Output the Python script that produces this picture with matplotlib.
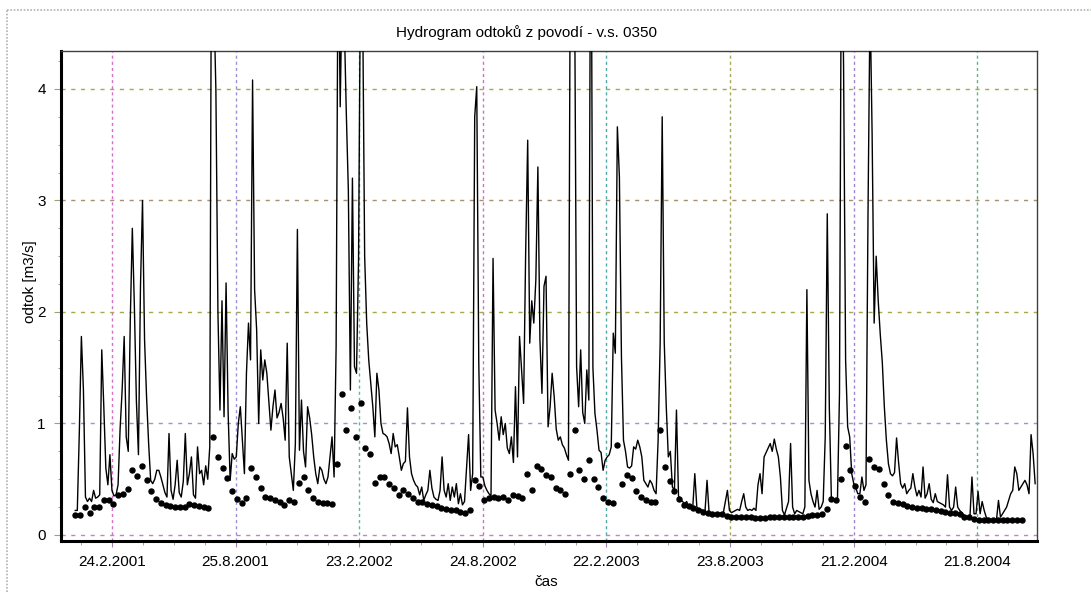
# Hydrogram odtoků z povodí - v.s. 0350
# čára = průtok (hodnoty po 3 dnech), body = týdenní hodnoty

import pandas as pd
import numpy as np
import matplotlib
matplotlib.use('Agg')
import matplotlib.pyplot as plt
import matplotlib.dates as mdates
from matplotlib.lines import Line2D

plt.rcParams['font.family'] = ['Liberation Sans', 'DejaVu Sans']

# ========================
# data
# ========================
q_2001 = [0.22, 0.22, 0.93, 1.78, 1.30, 0.34, 0.30, 0.33, 0.30, 0.40,
          0.33, 0.34, 0.36, 1.66, 1.15, 0.60, 0.45, 0.72, 0.40, 0.35,
          0.36, 0.45, 0.95, 1.30, 1.78, 0.88, 0.75, 1.93, 2.75, 2.05,
          1.20, 0.72, 2.23, 3.00, 1.75, 1.23, 0.82, 0.49, 0.46, 0.50,
          0.58, 0.58, 0.52, 0.45, 0.38, 0.34, 0.91, 0.40, 0.32, 0.45,
          0.67, 0.38, 0.34, 0.48, 0.91, 0.45, 0.55, 0.70, 0.36, 0.33,
          0.79, 0.55, 0.58, 0.45, 0.62, 0.50, 0.79, 6.50, 4.80, 3.99,
          2.00, 1.12, 2.10, 1.06, 2.26, 1.10,
          0.49, 0.73, 0.68, 0.70, 1.00, 1.15, 0.85, 0.55, 1.45, 1.90,
          1.57, 4.08, 2.20, 1.84, 1.00, 1.66, 1.39, 1.57, 1.45, 1.20,
          0.94, 1.15, 1.30, 1.05, 1.10, 1.18, 1.05, 0.85, 1.72, 0.70,
          0.55, 0.40, 0.82, 2.74, 0.76, 1.21, 0.75, 0.61, 1.15, 1.05,
          0.90, 0.70]
q_2002 = [0.55, 0.46, 0.61, 0.58, 0.50, 0.46, 0.52, 0.70,
          0.88, 0.52, 1.69, 5.50, 3.84, 5.00, 4.60, 3.78, 3.09, 1.30,
          3.20, 1.51, 1.45, 2.47, 5.20, 4.80, 2.50, 1.90, 1.57, 1.36,
          1.15, 0.88, 1.45, 1.30, 1.00, 0.91, 0.90, 0.88, 0.82, 0.73,
          0.91,
          0.79, 0.81, 0.70, 0.58, 0.64, 0.66, 1.14, 0.70, 0.55, 0.49,
          0.45, 0.43, 0.36, 0.43, 0.31, 0.36, 0.40, 0.58, 0.42, 0.34,
          0.32, 0.31, 0.40, 0.70, 0.40, 0.34, 0.46, 0.31, 0.43, 0.34,
          0.46, 0.28, 0.37, 0.27, 0.30, 0.60, 0.90, 0.40, 0.55, 3.75,
          4.02, 1.54, 0.52, 0.52, 0.44, 0.40, 0.37, 0.35, 2.48, 1.12,
          1.00, 0.85, 1.06, 0.90, 1.00, 0.78, 0.73, 0.88, 0.65, 1.33,
          0.70, 1.78, 1.48, 1.18, 2.53, 3.54, 1.72, 2.10, 1.90, 2.29,
          3.30, 1.75, 1.27, 2.23, 2.32, 0.97, 1.15, 1.45, 1.24, 0.95,
          0.85,
          0.88, 0.81, 0.78, 0.72, 0.67, 5.80]
q_2003 = [4.50, 5.00, 1.51, 1.15,
          1.66, 1.10, 1.00, 1.48, 1.21, 6.50, 1.50, 1.09, 0.94, 0.76,
          0.74, 0.58, 0.67, 0.70, 0.72, 0.79, 1.81, 1.63, 3.66, 3.21,
          1.60, 0.85, 0.75, 0.61, 0.60, 0.62, 0.79, 0.77, 0.85, 0.79,
          0.70, 0.49, 0.46, 0.43, 0.49, 0.46, 0.40, 0.37, 0.85, 1.72,
          3.75, 1.73, 1.15, 0.70, 0.75, 0.43, 0.40, 1.12, 0.35, 0.32,
          0.30, 0.28, 0.30, 0.25, 0.26, 0.25, 0.55, 0.25, 0.23, 0.23,
          0.22, 0.21, 0.49, 0.20, 0.18, 0.19, 0.19, 0.19, 0.19, 0.20,
          0.20,
          0.30, 0.40, 0.22, 0.20, 0.21, 0.22, 0.23, 0.22, 0.30, 0.37,
          0.25, 0.22, 0.23, 0.22, 0.24, 0.22, 0.45, 0.55, 0.37, 0.70,
          0.74, 0.78, 0.82, 0.75, 0.86, 0.77, 0.70, 0.52, 0.22, 0.18,
          0.24, 0.30, 0.82, 0.25, 0.19, 0.22, 0.21, 0.20, 0.19, 0.25,
          2.20, 0.49, 0.37, 0.30, 0.25, 0.40, 0.23]
q_2004 = [0.25, 0.30, 0.88,
          2.88, 1.15, 0.34, 0.31, 0.31, 0.32, 1.27, 5.80, 4.20, 1.57,
          0.97, 0.88, 0.55, 0.46, 0.42, 0.37, 0.37, 0.52, 0.40, 0.45,
          2.91, 4.80, 3.60, 1.90, 2.50, 2.10, 1.80, 1.55, 1.15, 0.85,
          0.64,
          0.55, 0.53, 0.56, 0.87, 0.65, 0.46, 0.42, 0.46, 0.37, 0.40,
          0.42, 0.55, 0.43, 0.35, 0.40, 0.34, 0.61, 0.33, 0.37, 0.46,
          0.32, 0.29, 0.37, 0.30, 0.29, 0.28, 0.27, 0.25, 0.54, 0.25,
          0.22, 0.25, 0.43, 0.25, 0.22, 0.20, 0.18, 0.16, 0.15, 0.16,
          0.52, 0.19, 0.19, 0.39, 0.19, 0.30, 0.22, 0.16, 0.14, 0.13,
          0.13, 0.13, 0.13, 0.31, 0.16, 0.19, 0.22, 0.25, 0.31, 0.37,
          0.40, 0.61, 0.55, 0.40, 0.43, 0.46, 0.49, 0.45, 0.37, 0.90,
          0.73, 0.46]

# týdenní body
body = [0.18, 0.18, 0.25, 0.20, 0.25, 0.25, 0.31, 0.31, 0.28, 0.36,
        0.37, 0.41, 0.58, 0.53, 0.62, 0.49, 0.39, 0.32, 0.29, 0.27,
        0.26, 0.25, 0.25, 0.25, 0.28, 0.27, 0.26, 0.25, 0.245, 0.88,
        0.70, 0.60, 0.51, 0.39, 0.32, 0.29, 0.33, 0.60, 0.52, 0.42,
        0.34, 0.33, 0.31, 0.30, 0.27, 0.31, 0.30, 0.47, 0.52, 0.40,
        0.33, 0.30, 0.29, 0.29, 0.28, 0.64, 1.26, 0.94, 1.14, 0.88,
        1.18, 0.78, 0.73, 0.47, 0.52, 0.52, 0.46, 0.42, 0.36, 0.40,
        0.37, 0.33, 0.30, 0.30, 0.28, 0.27, 0.26, 0.24, 0.23, 0.22,
        0.22, 0.21, 0.20, 0.22, 0.49, 0.44, 0.31, 0.33, 0.34, 0.33,
        0.34, 0.31, 0.36, 0.35, 0.33, 0.55, 0.40, 0.62, 0.59, 0.54,
        0.52, 0.42, 0.40, 0.37, 0.55, 0.94, 0.58, 0.50, 0.67, 0.50,
        0.43, 0.33, 0.30, 0.29, 0.81, 0.46, 0.54, 0.51, 0.39, 0.34,
        0.31, 0.30, 0.30, 0.94, 0.61, 0.48, 0.39, 0.32, 0.27, 0.26,
        0.24, 0.22, 0.21, 0.20, 0.19, 0.19, 0.19, 0.17, 0.165, 0.165,
        0.165, 0.165, 0.16, 0.155, 0.155, 0.155, 0.165, 0.165, 0.165, 0.165,
        0.16, 0.16, 0.165, 0.165, 0.17, 0.18, 0.175, 0.19, 0.23, 0.32,
        0.31, 0.50, 0.80, 0.58, 0.44, 0.34, 0.30, 0.68, 0.61, 0.59,
        0.46, 0.36, 0.30, 0.29, 0.28, 0.26, 0.255, 0.245, 0.24, 0.23,
        0.23, 0.22, 0.215, 0.21, 0.20, 0.195, 0.185, 0.165, 0.16, 0.14,
        0.135, 0.135, 0.135, 0.135, 0.135, 0.135, 0.135, 0.135, 0.135, 0.135]

tick_dates = ['2001-02-24', '2001-08-25', '2002-02-23', '2002-08-24',
              '2003-02-22', '2003-08-23', '2004-02-21', '2004-08-21']
y_ticks = [0, 1, 2, 3, 4]

# barvy mřížky (ve zdroji rastrované)
vgrid_colors = ['#d070c8', '#9890d8', '#60b890', '#d070c0',
                '#50a8a8', '#a8a858', '#a080d0', '#58b880']
hgrid_colors = ['#c880c0', '#9898d0', '#a8a850', '#a89070', '#a8a850']

q = q_2001 + q_2002 + q_2003 + q_2004
t_q = pd.date_range('2001-01-01', periods=len(q), freq='3D')
t_b = pd.date_range('2001-01-01', periods=len(body), freq='7D')
ticks = pd.to_datetime(tick_dates)

W, H = 1091, 592
fig = plt.figure(figsize=(W / 100, H / 100), dpi=100)
ax = fig.add_axes([61 / W, 1 - 541 / H, (1036.5 - 61) / W, (541 - 51) / H])

ax.plot(t_q, q, color='black', lw=1.0, zorder=3)
ax.plot(t_b, body, 'o', color='black', ms=3.6, zorder=4)

x0, x1 = pd.Timestamp('2000-12-11'), pd.Timestamp('2004-11-16')

# osy a popisky
tn = mdates.date2num(ticks)
step = (tn[1] - tn[0]) / 4
minor = np.arange(tn[0] - 4 * step, tn[-1] + 4 * step, step)
lo, hi = mdates.date2num(x0), mdates.date2num(x1)
minor = [m for m in minor if lo < m < hi and not np.any(np.isclose(m, tn))]
ax.set_xticks(tn)
ax.set_xticks(minor, minor=True)
ax.set_xticklabels([f"{d.day}.{d.month}.{d.year}" for d in ticks])
ax.set_yticks(y_ticks)
ax.set_yticks(np.arange(0, 4.3, 0.25), minor=True)
ax.set_yticklabels([str(v) for v in y_ticks])

ax.set_xlim(x0, x1)
ax.set_ylim(-0.054, 4.34)

ax.tick_params(axis='both', which='major', labelsize=11, colors='black')
ax.tick_params(axis='x', which='major', length=4, pad=6, color='#a080b8')
ax.tick_params(axis='x', which='minor', length=3, color='#80a0a0')
ax.tick_params(axis='y', which='major', length=5, pad=6, color='#a0a070')
ax.tick_params(axis='y', which='minor', length=2, color='#c070b0')

ax.grid(True, which='major', linestyle=(0, (3, 4)), lw=1.0)
for gl, c in zip(ax.get_xgridlines(), vgrid_colors):
    gl.set_color(c)
    gl.set_linestyle((0, (2.2, 2.2)))
for gl, c in zip(ax.get_ygridlines(), hgrid_colors):
    gl.set_color(c)
ax.set_axisbelow(True)

for s in ['left', 'bottom']:
    ax.spines[s].set_linewidth(2.2)
    ax.spines[s].set_color('black')
for s in ['top', 'right']:
    ax.spines[s].set_linewidth(1.0)
    ax.spines[s].set_color('#404040')

fig.text(527 / W, 1 - 33 / H, 'Hydrogram odtoků z povodí - v.s. 0350',
         ha='center', va='center', fontsize=11)
fig.text(30 / W, 1 - 282 / H, 'odtok [m3/s]', rotation=90,
         ha='center', va='center', fontsize=11)
fig.text(546 / W, 1 - 582 / H, 'čas', ha='center', va='center', fontsize=11)

# rámeček okolo grafu
fig.add_artist(Line2D([7 / W, 7 / W], [0, 1 - 10 / H], transform=fig.transFigure,
                      color='#a8b8a8', lw=1.2, ls=(0, (1, 1))))
fig.add_artist(Line2D([7 / W, 1], [1 - 10 / H, 1 - 10 / H], transform=fig.transFigure,
                      color='#a8b8a8', lw=1.2, ls=(0, (1, 1))))

fig.savefig('out.png', dpi=100)
